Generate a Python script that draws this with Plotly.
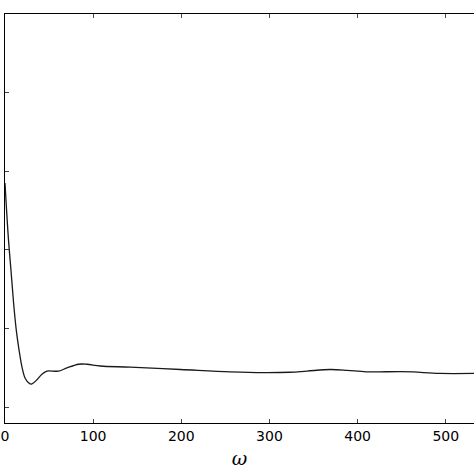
import plotly.graph_objects as go

# curve (x = omega, y in tick units)
omega = [0, 3.7, 6.8, 9.8, 12.8, 15.9, 19.3, 23, 27.9, 30.6, 36.3, 41.9, 47.6,
         60.8, 70.3, 83.4, 93, 108, 142, 199, 255.5, 293, 323, 342.5, 369,
         388, 410, 448, 463, 493, 532]
response = [2.85, 2.17, 1.74, 1.32, 0.98, 0.73, 0.51, 0.365, 0.30, 0.297, 0.35,
            0.42, 0.46, 0.46, 0.50, 0.547, 0.547, 0.525, 0.51, 0.48, 0.45,
            0.44, 0.445, 0.46, 0.48, 0.47, 0.45, 0.454, 0.45, 0.43, 0.43]
x_ticks = [0, 100, 200, 300, 400, 500]
y_ticks = [0, 1, 2, 3, 4, 5]

fig = go.Figure(go.Scatter(x=omega, y=response, mode="lines",
                           line=dict(color="#1a1a1a", width=1.3, shape="spline")))

fig.update_layout(
    width=474, height=474,
    margin=dict(l=5, r=0, t=14, b=51, autoexpand=False),
    plot_bgcolor="white", paper_bgcolor="white",
    showlegend=False,
    font=dict(family="DejaVu Sans", color="black", size=14),
)
fig.update_xaxes(range=[0, 532], tickvals=x_ticks, ticks="inside", ticklen=4,
                 showline=True, linecolor="black", linewidth=1, mirror="ticks",
                 showgrid=False, zeroline=False, automargin=False,
                 title=dict(text="<i>ω</i>", font=dict(family="DejaVu Serif", size=19),
                            standoff=8))
fig.update_yaxes(range=[-0.2, 5.0], tickvals=y_ticks, ticks="inside", ticklen=4,
                 showticklabels=False, showline=True, linecolor="black", linewidth=1,
                 showgrid=False, zeroline=False, automargin=False)

# page margin off so the figure sits at the window corner
fig.write_html("out.html", config={"displayModeBar": False},
               post_script="document.body.style.margin='0';")
